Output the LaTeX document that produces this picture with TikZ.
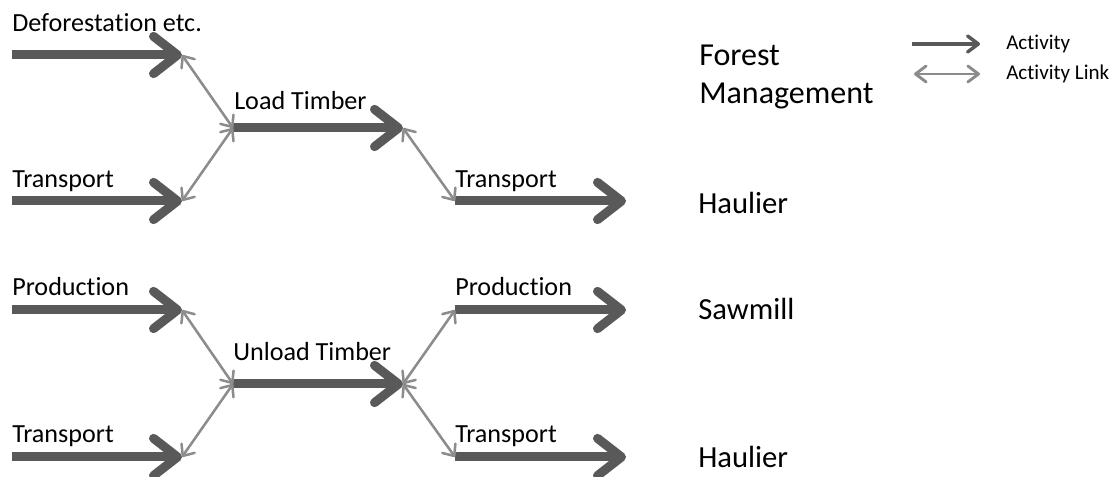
\documentclass[tikz,border=0pt]{standalone}
\usepackage{fontspec}
\setmainfont{Carlito}[Ligatures={NoCommon,NoRare,NoContextual}]
\usetikzlibrary{arrows.meta}
\definecolor{actgray}{HTML}{595959}
\definecolor{lnkgray}{HTML}{8C8C8C}
\tikzset{
  act/.style={actgray, line width=6.75pt, -{Straight Barb[length=18pt, width=28pt, round]}},
  lnk/.style={lnkgray, line width=1.9pt, {Straight Barb[length=7pt, width=12pt, round]}-{Straight Barb[length=7pt, width=12pt, round]}},
  keyact/.style={actgray, line width=2.6pt, -{Straight Barb[length=8pt, width=12pt, round]}},
  keylnk/.style={lnkgray, line width=2.2pt, {Straight Barb[length=8pt, width=12pt, round]}-{Straight Barb[length=8pt, width=12pt, round]}},
  lbl/.style={anchor=base west, inner sep=0pt, font=\fontsize{19.6}{23}\selectfont},
  role/.style={anchor=base west, inner sep=0pt, font=\fontsize{23}{27}\selectfont},
  key/.style={anchor=base west, inner sep=0pt, font=\fontsize{15.8}{19}\selectfont},
}
\begin{document}
\begin{tikzpicture}[x=0.75pt, y=-0.75pt]
\useasboundingbox (0,0) rectangle (1115,477);
% activity end points
\coordinate (defS) at (12,55);   \coordinate (defE) at (182,55);
\coordinate (trAS) at (12,201);  \coordinate (trAE) at (182,201);
\coordinate (loadS) at (233,128); \coordinate (loadE) at (403,128);
\coordinate (trBS) at (455,201); \coordinate (trBE) at (626,201);
\coordinate (prAS) at (12,310);  \coordinate (prAE) at (182,310);
\coordinate (trCS) at (12,457);  \coordinate (trCE) at (182,457);
\coordinate (unlS) at (233,384); \coordinate (unlE) at (403,384);
\coordinate (prBS) at (455,310); \coordinate (prBE) at (626,310);
\coordinate (trDS) at (455,457); \coordinate (trDE) at (626,457);
% activities
\draw[act] (defS) -- (defE);
\draw[act] (trAS) -- (trAE);
\draw[act] (loadS) -- (loadE);
\draw[act] (trBS) -- (trBE);
\draw[act] (prAS) -- (prAE);
\draw[act] (trCS) -- (trCE);
\draw[act] (unlS) -- (unlE);
\draw[act] (prBS) -- (prBE);
\draw[act] (trDS) -- (trDE);
% activity links
\draw[lnk] (defE) -- (loadS);
\draw[lnk] (trAE) -- (loadS);
\draw[lnk] (loadE) -- (trBS);
\draw[lnk] (prAE) -- (unlS);
\draw[lnk] (trCE) -- (unlS);
\draw[lnk] (unlE) -- (prBS);
\draw[lnk] (unlE) -- (trDS);
% labels
\node[lbl] (lDef) at (12,32) {Deforestation etc.};
\node[lbl] (lTrA) at (12,188) {Transport};
\node[lbl] (lLoad) at (234,110) {Load Timber};
\node[lbl] (lTrB) at (455,188) {Transport};
\node[lbl] (lPrA) at (12,296) {Production};
\node[lbl] (lTrC) at (12,443) {Transport};
\node[lbl] (lUnl) at (233,361) {Unload Timber};
\node[lbl] (lPrB) at (455,296) {Production};
\node[lbl] (lTrD) at (455,443) {Transport};
% roles
\node[role, font=\fontsize{24}{28}\selectfont] (rFor) at (699,66) {Forest};
\node[role, font=\fontsize{24}{28}\selectfont] (rMan) at (699,104) {Management};
\node[role] (rHauA) at (698,214) {Haulier};
\node[role] (rSaw) at (698,320) {Sawmill};
\node[role] (rHauB) at (698,468) {Haulier};
% legend
\coordinate (kAS) at (912,44); \coordinate (kAE) at (980,44);
\coordinate (kLS) at (914,74); \coordinate (kLE) at (980,74);
\draw[keyact] (kAS) -- (kAE);
\draw[keylnk] (kLS) -- (kLE);
\node[key] (kAct) at (1006,50) {Activity};
\node[key] (kLnk) at (1006,80) {Activity Link};
\end{tikzpicture}
\end{document}
